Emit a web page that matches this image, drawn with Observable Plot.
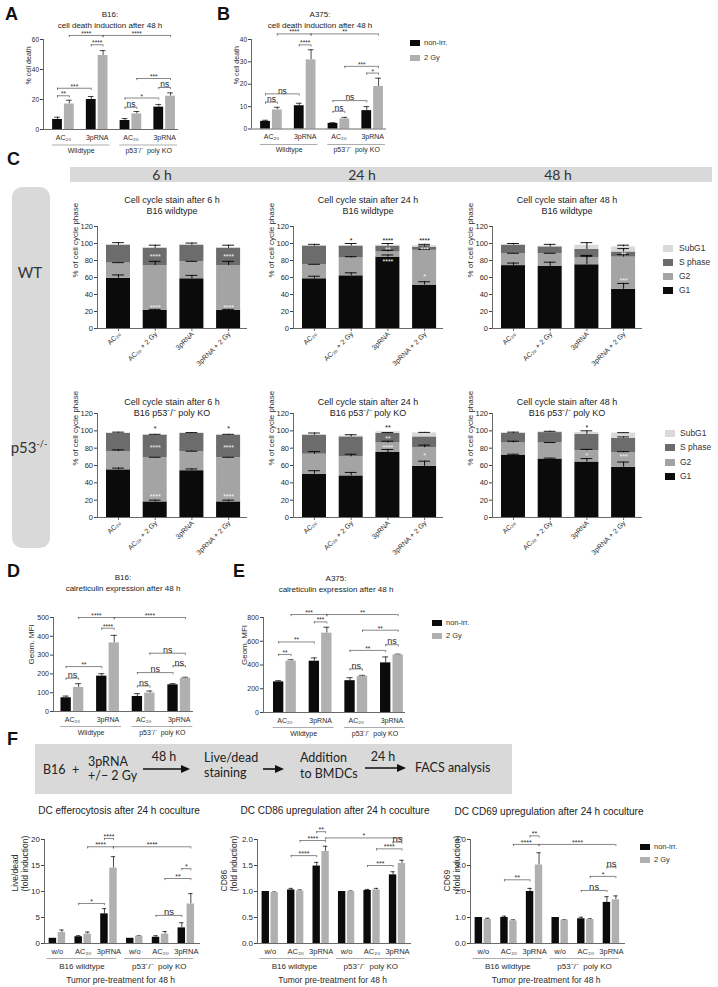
<!DOCTYPE html>
<html>
<head>
<meta charset="utf-8">
<script src="https://cdn.jsdelivr.net/npm/d3@7"></script>
<script src="https://cdn.jsdelivr.net/npm/@observablehq/plot@0.6"></script>
<style>
html,body{margin:0;padding:0;background:#fff;}
#fig{position:relative;width:718px;height:987px;overflow:hidden;background:#fff;font-family:"Liberation Sans",Arial,sans-serif;color:#222;}
#fig .t{position:absolute;white-space:nowrap;}
#fig svg{position:absolute;overflow:visible;}
#fig .box{position:absolute;background:#d9d9d9;}
</style>
</head>
<body>
<div id="fig"></div>
<script>
// ================= DATA =================
const cats4 = ["AC₂₀", "3pRNA", "AC₂₀", "3pRNA"];
const cats6 = ["w/o", "AC₂₀", "3pRNA", "w/o", "AC₂₀", "3pRNA"];
const groupNames = ["Wildtype", "p53⁻/⁻  poly KO"];
const groupNamesF = ["B16 wildtype", "p53⁻/⁻  poly KO"];
const seriesNames = ["non-irr.", "2 Gy"];
const phaseNames = ["G1", "G2", "S phase", "SubG1"];
const ccLabels = ["AC₂₀", "AC₂₀ + 2 Gy", "3pRNA", "3pRNA + 2 Gy"];

// Panel A: B16 % cell death
const aNon = [6.7, 20, 6, 14.9];
const aNonErr = [1.5, 2, 1.3, 1.8];
const aIrr = [17, 49.3, 10.4, 22.2];
const aIrrErr = [2.5, 3.3, 1.6, 2.2];
const aSig = [[1,3,62.7,"****"],[2,3,56.5,"****"],[3,7,62.7,"****"],[0,2,27.5,"***"],[0,1,22.5,"**"],[4,5,14.8,"ns"],[4,6,21,"*"],[5,7,34,"***"],[6,7,28,"ns"]];

// Panel B: A375 % cell death
const bNon = [3.4, 10.4, 2.5, 8.2];
const bNonErr = [0.5, 1.1, 0.3, 1.8];
const bIrr = [8.5, 30.9, 4.5, 19];
const bIrrErr = [1.2, 4.5, 0.7, 3.7];
const bSig = [[1,3,42.5,"****"],[2,3,37.6,"****"],[3,7,42.5,"**"],[0,2,15.7,"ns"],[0,1,12,"ns"],[5,7,28,"***"],[6,7,25,"*"],[4,6,12.7,"ns"],[4,5,7.9,"ns"]];

// Panel C: cell cycle phases (rows: G1, G2, S phase, SubG1; columns: AC20, AC20+2Gy, 3pRNA, 3pRNA+2Gy)
const ccWT6 = [[59,21.5,58.5,21.5],[18,52.5,20,52.5],[21,20.5,19.5,20.5],[0.6,0.7,0.5,0.7]];
const ccWT6Err = [[4,1,4,1],[0.5,5,0.5,5],[3,3.5,2.5,3.5],[0,0,0,0]];
const ccWT6Stars = [[1,24,"****","w"],[1,84,"****","w"],[3,24,"****","w"],[3,84,"****","w"]];

const ccWT24 = [[58.5,62,84,51],[16.5,21,6,41],[22,14,7,3.5],[0.5,0.5,1,2]];
const ccWT24Err = [[3,3.5,2.5,4],[0.5,1.5,2,1],[2,3,3,1.5],[0,0,0,1.5]];
const ccWT24Stars = [[1,103,"*","k"],[2,103,"****","k"],[2,93,"**","w"],[2,79,"****","w"],[3,103,"****","k"],[3,93,"***","w"],[3,61,"*","w"]];

const ccWT48 = [[74,73,75,46],[14,15,8,38],[10,8,10,6],[0.5,1,5,6]];
const ccWT48Err = [[3,5,11,7],[0.5,0.5,2,3],[2,3,8,4],[0,0,0,2]];
const ccWT48Stars = [[3,87,"**","w"],[3,56,"***","w"]];

const ccKO6 = [[55,18,54,18],[21,51,22,51],[21,26,21,26],[0.5,0.5,0.5,0.5]];
const ccKO6Err = [[2,2,2,2],[2,0.5,0.5,0.5],[1.5,1,1,1],[0,0,0,0]];
const ccKO6Stars = [[1,102,"*","k"],[1,80,"****","w"],[1,24,"****","w"],[3,102,"*","k"],[3,80,"****","w"],[3,24,"****","w"]];

const ccKO24 = [[50,48,75,59],[23,22,11,21.5],[22,23,11,12.5],[0.5,1,2,4.7]];
const ccKO24Err = [[4,4,3.5,6],[3,3,2,3],[2.5,2.5,1,0],[0,0,0,0.5]];
const ccKO24Stars = [[2,103,"**","k"],[2,91,"**","w"],[2,80,"****","w"],[3,71,"*","w"]];

const ccKO48 = [[72,67.5,64,58],[14,18.5,13,16.7],[11,12,19,16.7],[1,1,2,6]];
const ccKO48Err = [[1,1,4,6],[2,0.5,1.6,1.3],[1.5,1.5,4,1.6],[0,0,0,0.5]];
const ccKO48Stars = [[2,103.5,"*","k"],[2,71,"*","w"],[3,70,"***","w"]];

// Panel D: B16 calreticulin Geom. MFI
const dNon = [73, 188, 80, 142];
const dNonErr = [9, 13, 15, 6];
const dIrr = [128, 365, 98, 177];
const dIrrErr = [20, 40, 11, 5];
const dSig = [[1,3,500,"****"],[2,3,443,"****"],[3,7,500,"****"],[0,2,239,"**"],[0,1,177,"ns"],[4,6,207,"ns"],[4,5,136,"ns"],[5,7,310,"ns"],[6,7,243,"ns"]];

// Panel E: A375 calreticulin Geom. MFI
const eNon = [258, 432, 268, 418];
const eNonErr = [10, 28, 25, 50];
const eIrr = [432, 668, 305, 485];
const eIrrErr = [12, 50, 8, 6];
const eSig = [[1,3,825,"***"],[2,3,763,"***"],[3,7,825,"**"],[0,2,594,"**"],[0,1,489,"**"],[5,7,693,"**"],[6,7,571,"ns"],[4,6,523,"**"],[4,5,367,"ns"]];

// Panel F
const f1Non = [1, 1.3, 5.7, 1, 1.2, 3];
const f1NonErr = [0, 0.2, 1, 0, 0.3, 1];
const f1Irr = [2.1, 1.8, 14.5, 1.4, 1.8, 7.6];
const f1IrrErr = [0.5, 0.4, 2.2, 0.1, 0.5, 2];
const f1Sig = [[4,5,20.2,"****"],[3,5,18.6,"****"],[5,11,18.6,"****"],[2,4,7.7,"*"],[10,11,14.4,"*"],[9,11,12.5,"**"],[8,10,5.4,"ns"]];

const f2Non = [1, 1.03, 1.49, 1, 1.02, 1.32];
const f2NonErr = [0, 0.03, 0.07, 0, 0.02, 0.06];
const f2Irr = [0.98, 1.01, 1.77, 1.0, 1.03, 1.54];
const f2IrrErr = [0.01, 0.02, 0.1, 0.01, 0.03, 0.06];
const f2Sig = [[4,5,2.15,"**"],[3,5,1.98,"****"],[5,11,2.03,"*"],[2,4,1.69,"****"],[10,11,1.95,"ns"],[9,11,1.82,"****"],[8,10,1.5,"***"]];

const f3Non = [1, 1.0, 2.0, 1, 0.95, 1.58];
const f3NonErr = [0, 0.05, 0.12, 0, 0.06, 0.22];
const f3Irr = [0.92, 0.87, 3.02, 0.9, 0.92, 1.68];
const f3IrrErr = [0.05, 0.04, 0.47, 0.02, 0.03, 0.15];
const f3Sig = [[4,5,4.14,"**"],[3,5,3.81,"****"],[5,11,3.81,"****"],[2,4,2.45,"**"],[10,11,2.94,"ns"],[9,11,2.58,"*"],[8,10,2.04,"ns"]];

// ================= STYLE =================
const FONT = "'Liberation Sans', Arial, sans-serif";
const CAL = "Lato, 'Open Sans', sans-serif";
const BLACK = "#0b0b0b", GRAY = "#b0b0b0";
const PHASE_COLORS = ["#0b0b0b", "#a4a4a4", "#6c6c6c", "#d9d9d9"];
const fig = document.getElementById("fig");

function T(html, x, y, o = {}) {
  const d = document.createElement("div");
  d.className = "t";
  d.innerHTML = html;
  const size = o.size || 8, lh = o.lh || size;
  d.style.fontSize = size + "px";
  d.style.lineHeight = lh + "px";
  if (o.family) d.style.fontFamily = o.family;
  if (o.weight) d.style.fontWeight = o.weight;
  if (o.color) d.style.color = o.color;
  d.style.top = (y - lh / 2) + "px";
  if ((o.align || "c") === "c") { d.style.left = (x - 200) + "px"; d.style.width = "400px"; d.style.textAlign = "center"; }
  else d.style.left = x + "px";
  fig.appendChild(d);
  return d;
}
function box(x, y, w, h, extra = "") {
  const d = document.createElement("div");
  d.className = "box";
  d.style.cssText = `left:${x}px;top:${y}px;width:${w}px;height:${h}px;${extra}`;
  fig.appendChild(d);
}
function legend(x, y, dy, names, colors, size, sw = 10, sh = 6, gap = 4) {
  names.forEach((nm, i) => {
    const yy = y + i * dy;
    const s = document.createElement("div");
    s.style.cssText = `position:absolute;left:${x}px;top:${yy - sh / 2}px;width:${sw}px;height:${sh}px;background:${colors[i]};`;
    fig.appendChild(s);
    T(nm, x + sw + gap, yy, {size, align: "l", color: "#333"});
  });
}

// ---------- paired bar chart with significance brackets ----------
function pairChart(c) {
  const n = c.cats.length, mL = 70, mR = 30, mT = 40, mB = 60;
  const W = c.x1 - c.x0, H = c.yBot - c.yTop;
  const off = 0.175, hw = 0.145, cw = 0.085;
  const bars = [];
  for (let g = 0; g < n; g++) {
    bars.push({g, s: 0, c: g - off, v: c.v0[g], e: c.e0[g]});
    bars.push({g, s: 1, c: g + off, v: c.v1[g], e: c.e1[g]});
  }
  const tk = 2.2 * c.ymax / H;
  const br = c.sig.map(([a, b, y, t]) => ({xa: bars[a].c, xb: bars[b].c, y, t}));
  const ends = br.flatMap(d => [{x: d.xa, y: d.y}, {x: d.xb, y: d.y}]);
  const sup = c.supers.map(([a, b, t]) => ({a: a - c.supL, b: b + c.supR, t}));
  const withErr = bars.filter(d => d.e > 0);
  const catData = c.cats.map((t, g) => ({t, g}));
  const mid = (sup[0].a + sup[sup.length - 1].b) / 2;
  const marks = [
    Plot.ruleX(withErr, {x: "c", y1: "v", y2: d => d.v + d.e, stroke: "#1a1a1a", strokeWidth: 0.8}),
    Plot.ruleY(withErr, {y: d => d.v + d.e, x1: d => d.c - cw, x2: d => d.c + cw, stroke: "#1a1a1a", strokeWidth: 0.8}),
    Plot.rect(bars.filter(d => d.s === 0), {x1: d => d.c - hw, x2: d => d.c + hw, y1: 0, y2: "v", fill: BLACK}),
    Plot.rect(bars.filter(d => d.s === 1), {x1: d => d.c - hw, x2: d => d.c + hw, y1: 0, y2: "v", fill: GRAY}),
    Plot.ruleX([-c.padL], {stroke: "#444", strokeWidth: 0.8}),
    Plot.ruleY([0], {stroke: "#444", strokeWidth: 0.8}),
    Plot.axisY({ticks: c.yticks, tickSize: 3, tickPadding: 1.5, fontSize: c.tickSize, label: null, tickFormat: c.fmt, stroke: "#444"}),
    Plot.ruleY(br, {y: "y", x1: "xa", x2: "xb", stroke: "#555", strokeWidth: 0.7}),
    Plot.ruleX(ends, {x: "x", y1: "y", y2: d => d.y - tk, stroke: "#555", strokeWidth: 0.7}),
    Plot.text(br.filter(d => d.t !== "ns"), {x: d => (d.xa + d.xb) / 2, y: "y", text: "t", fontSize: c.starSize, lineAnchor: "bottom", dy: 0.5}),
    Plot.text(br.filter(d => d.t === "ns"), {x: d => (d.xa + d.xb) / 2, y: "y", text: "t", fontSize: c.nsSize, lineAnchor: "bottom", dy: -0.3}),
    Plot.text(catData, {x: "g", text: "t", frameAnchor: "bottom", lineAnchor: "middle", dy: c.catDy, fontSize: c.catSize}),
    Plot.ruleY(sup, {y: () => 0, x1: "a", x2: "b", dy: c.lineDy, stroke: "#8a8a8a", strokeWidth: 0.7}),
    Plot.text(sup, {x: d => (d.a + d.b) / 2, text: "t", frameAnchor: "bottom", lineAnchor: "middle", dy: c.supDy, fontSize: c.supSize}),
    Plot.text([c.ylabel], {text: d => d, frameAnchor: "left", rotate: -90, dx: c.ylabelDx, fontSize: c.ylabelSize, lineHeight: 1.25})
  ];
  if (c.footer) marks.push(Plot.text([c.footer], {x: () => mid, text: d => d, frameAnchor: "bottom", lineAnchor: "middle", dy: c.footDy, fontSize: c.footSize}));
  const svg = Plot.plot({
    width: W + mL + mR, height: H + mT + mB,
    marginLeft: mL, marginRight: mR, marginTop: mT, marginBottom: mB,
    x: {domain: [-c.padL, n - 1 + c.padR], axis: null},
    y: {domain: [0, c.ymax], axis: null},
    style: {background: "transparent", overflow: "visible", fontFamily: FONT, color: "#2a2a2a"},
    marks
  });
  svg.style.left = (c.x0 - mL) + "px";
  svg.style.top = (c.yTop - mT) + "px";
  fig.appendChild(svg);
}

// ---------- stacked cell-cycle chart ----------
function ccChart(c) {
  const mL = 70, mR = 30, mT = 40, mB = 60;
  const padL = 0.572, padR = 0.515, W = 150, H = c.yBot - c.yTop, ymax = 120;
  const hw = 0.327, cw = 0.16;
  const segs = [], eb = [];
  for (let i = 0; i < 4; i++) {
    let base = 0;
    for (let k = 0; k < 4; k++) {
      const v = c.comps[k][i];
      segs.push({i, k, y1: base, y2: base + v});
      base += v;
      if (c.errs[k][i] > 0) eb.push({i, top: base, cap: base + c.errs[k][i]});
    }
  }
  const tk = 3 * ymax / H;
  const marks = [
    ...[0, 1, 2, 3].map(k => Plot.rect(segs.filter(d => d.k === k), {x1: d => d.i - hw, x2: d => d.i + hw, y1: "y1", y2: "y2", fill: PHASE_COLORS[k]})),
    Plot.ruleX(eb, {x: "i", y1: "top", y2: "cap", stroke: "#000", strokeWidth: 0.9}),
    Plot.ruleY(eb, {y: "cap", x1: d => d.i - cw, x2: d => d.i + cw, stroke: "#000", strokeWidth: 0.9}),
    Plot.ruleX([-padL], {stroke: "#444", strokeWidth: 0.8}),
    Plot.ruleY([0], {stroke: "#444", strokeWidth: 0.8}),
    Plot.ruleX([0, 1, 2, 3], {y1: 0, y2: -tk, stroke: "#444", strokeWidth: 0.8}),
    Plot.axisY({ticks: [0, 20, 40, 60, 80, 100, 120], tickSize: 3, tickPadding: 1.5, fontSize: 7.5, label: null, stroke: "#444"}),
    Plot.text(ccLabels, {x: (d, i) => i, text: d => d, frameAnchor: "bottom", rotate: -45, textAnchor: "end", dx: 2.5, dy: 6, fontSize: 7}),
    Plot.text(c.stars.filter(s => s[3] === "w"), {x: d => d[0], y: d => d[1], text: d => d[2], fill: "#f2f2f2", fontSize: 7}),
    Plot.text(c.stars.filter(s => s[3] === "k"), {x: d => d[0], y: d => d[1], text: d => d[2], fill: "#111", fontSize: 7}),
    Plot.text(["% of cell cycle phase"], {text: d => d, frameAnchor: "left", rotate: -90, dx: -22, fontSize: 8})
  ];
  const svg = Plot.plot({
    width: W + mL + mR, height: H + mT + mB,
    marginLeft: mL, marginRight: mR, marginTop: mT, marginBottom: mB,
    x: {domain: [-padL, 3 + padR], axis: null},
    y: {domain: [0, ymax], axis: null},
    style: {background: "transparent", overflow: "visible", fontFamily: FONT, color: "#2a2a2a"},
    marks
  });
  svg.style.left = (c.x0 - mL) + "px";
  svg.style.top = (c.yTop - mT) + "px";
  fig.appendChild(svg);
}

// ================= LAYOUT =================
// Panel letters
[["A", 5, 13.5], ["B", 217, 13.5], ["C", 7, 159], ["D", 7, 571], ["E", 233, 571], ["F", 7, 739]].forEach(([l, x, y]) => T(l, x, y, {size: 18, weight: "bold", align: "l", color: "#111"}));

// ---------- A & B ----------
const supers4 = [[0, 1, groupNames[0]], [2, 3, groupNames[1]]];
const baseAB = {cats: cats4, padL: 0.59, padR: 0.41, supers: supers4, supL: 0.33, supR: 0.38,
  tickSize: 6.5, starSize: 6.5, nsSize: 8.5, catSize: 7, supSize: 7, catDy: 8, lineDy: 15.5, supDy: 21, ylabelSize: 7};
T("B16:<br>cell death induction after 48 h", 110, 14, {size: 8, lh: 11});
pairChart({...baseAB, x0: 43, x1: 178, yTop: 39, yBot: 129, ymax: 60, yticks: [0, 20, 40, 60],
  v0: aNon, e0: aNonErr, v1: aIrr, e1: aIrrErr, sig: aSig, ylabel: "% cell death", ylabelDx: -15});
T("A375:<br>cell death induction after 48 h", 320, 14, {size: 8, lh: 11});
pairChart({...baseAB, x0: 251, x1: 386, yTop: 39, yBot: 128.5, ymax: 40, yticks: [0, 10, 20, 30, 40],
  v0: bNon, e0: bNonErr, v1: bIrr, e1: bIrrErr, sig: bSig, ylabel: "% cell death", ylabelDx: -15});
legend(410, 43, 15, seriesNames, [BLACK, GRAY], 7.5);

// ---------- C ----------
box(70, 167, 642, 15);
T("6 h", 162, 174.5, {size: 14, family: CAL, color: "#333"});
T("24 h", 362, 174.5, {size: 14, family: CAL, color: "#333"});
T("48 h", 558, 174.5, {size: 14, family: CAL, color: "#333"});
box(12, 187, 38, 361, "border-radius:10px;");
T("WT", 30, 272, {size: 15, family: CAL, color: "#333"});
T("p53<sup style='font-size:9px;vertical-align:6px;line-height:0'>-/-</sup>", 29, 447, {size: 15, family: CAL, color: "#333"});

const ccTop = [[97, "6", ccWT6, ccWT6Err, ccWT6Stars], [293, "24", ccWT24, ccWT24Err, ccWT24Stars], [492, "48", ccWT48, ccWT48Err, ccWT48Stars]];
ccTop.forEach(([x0, h, comps, errs, stars]) => {
  T(`Cell cycle stain after ${h} h<br>B16 wildtype`, x0 + 75, 200, {size: 9, lh: 11});
  ccChart({x0, yTop: 226, yBot: 328, comps, errs, stars});
});
const ccBot = [[97, "6", ccKO6, ccKO6Err, ccKO6Stars], [293, "24", ccKO24, ccKO24Err, ccKO24Stars], [492, "48", ccKO48, ccKO48Err, ccKO48Stars]];
ccBot.forEach(([x0, h, comps, errs, stars]) => {
  T(`Cell cycle stain after ${h} h<br>B16 p53⁻/⁻  poly KO`, x0 + 75, 402.5, {size: 9, lh: 11});
  ccChart({x0, yTop: 413, yBot: 517, comps, errs, stars});
});
const legOrder = [3, 2, 1, 0];
legend(663, 248, 14, legOrder.map(k => phaseNames[k]), legOrder.map(k => PHASE_COLORS[k]), 8.5, 10, 7, 6);
legend(665, 433, 14.5, legOrder.map(k => phaseNames[k]), legOrder.map(k => PHASE_COLORS[k]), 8.5, 10, 7, 5);

// ---------- D & E ----------
const baseDE = {cats: cats4, supers: supers4, supL: 0.33, supR: 0.38,
  tickSize: 7, starSize: 6.5, nsSize: 9, catSize: 7, supSize: 7, catDy: 8.5, lineDy: 15, supDy: 21, ylabelSize: 8};
T("B16:<br>calreticulin expression after 48 h", 123, 577, {size: 8, lh: 11});
pairChart({...baseDE, x0: 53, x1: 193, yTop: 617, yBot: 711, padL: 0.53, padR: 0.4, ymax: 500, yticks: [0, 100, 200, 300, 400, 500],
  v0: dNon, e0: dNonErr, v1: dIrr, e1: dIrrErr, sig: dSig, ylabel: "Geom. MFI", ylabelDx: -23});
T("A375:<br>calreticulin expression after 48 h", 336, 578, {size: 8, lh: 11});
pairChart({...baseDE, x0: 263, x1: 405, yTop: 617, yBot: 712, padL: 0.6, padR: 0.38, ymax: 800, yticks: [0, 200, 400, 600, 800],
  v0: eNon, e0: eNonErr, v1: eIrr, e1: eIrrErr, sig: eSig, ylabel: "Geom. MFI", ylabelDx: -20});
legend(432, 623, 12.5, seriesNames, [BLACK, GRAY], 7.5);

// ---------- F: flow scheme ----------
box(35, 744, 477, 50);
const FS = 12.5;
T("B16&nbsp;&nbsp;+", 43, 770, {size: FS, family: CAL, align: "l", color: "#222"});
T("3pRNA<br>+/− 2 Gy", 88, 762, {size: FS, lh: 14, family: CAL, align: "l", color: "#222"});
T("48 h", 164, 757, {size: FS, family: CAL, color: "#222"});
T("Live/dead<br>staining", 204, 757, {size: FS, lh: 15, family: CAL, align: "l", color: "#222"});
T("Addition<br>to BMDCs", 300, 758, {size: FS, lh: 16, family: CAL, align: "l", color: "#222"});
T("24 h", 383, 757, {size: FS, family: CAL, color: "#222"});
T("FACS analysis", 415, 768, {size: FS, family: CAL, align: "l", color: "#222"});
function arrow(xa, xb, y) {
  const ns = "http://www.w3.org/2000/svg";
  const s = document.createElementNS(ns, "svg");
  s.setAttribute("width", xb - xa + 2); s.setAttribute("height", 10);
  s.style.left = xa + "px"; s.style.top = (y - 5) + "px";
  s.innerHTML = `<line x1="0" y1="5" x2="${xb - xa - 8}" y2="5" stroke="#111" stroke-width="1.6"/><path d="M${xb - xa - 9},1 L${xb - xa},5 L${xb - xa - 9},9 Z" fill="#111"/>`;
  fig.appendChild(s);
}
arrow(143, 190, 769);
arrow(263, 284, 769);
arrow(365, 406, 768);

// ---------- F: charts ----------
const supers6 = [[0, 2, groupNamesF[0]], [3, 5, groupNamesF[1]]];
const baseF = {cats: cats6, padL: 0.5, padR: 0.55, supers: supers6, supL: 0.4, supR: 0.3, yTop: 839, yBot: 943,
  tickSize: 8, starSize: 7, nsSize: 9.5, catSize: 7.5, supSize: 8, catDy: 8.5, lineDy: 15, supDy: 23,
  footer: "Tumor pre-treatment for 48 h", footDy: 37, footSize: 8.5, ylabelSize: 8.5};
T("DC efferocytosis after 24 h coculture", 119, 811, {size: 10});
pairChart({...baseF, x0: 44, x1: 200, ymax: 20, yticks: [0, 5, 10, 15, 20],
  v0: f1Non, e0: f1NonErr, v1: f1Irr, e1: f1IrrErr, sig: f1Sig, ylabel: "Live/dead\n(fold induction)", ylabelDx: -25});
T("DC CD86 upregulation after 24 h coculture", 335, 811, {size: 10});
pairChart({...baseF, x0: 257, x1: 411, ymax: 2, yticks: [0, 0.5, 1, 1.5, 2], fmt: d3.format(".1f"),
  v0: f2Non, e0: f2NonErr, v1: f2Irr, e1: f2IrrErr, sig: f2Sig, ylabel: "CD86\n(fold induction)", ylabelDx: -29});
T("DC CD69 upregulation after 24 h coculture", 549, 812, {size: 10});
pairChart({...baseF, x0: 470, x1: 625, ymax: 4, yticks: [0, 1, 2, 3, 4],
  v0: f3Non, e0: f3NonErr, v1: f3Irr, e1: f3IrrErr, sig: f3Sig, ylabel: "CD69\n(fold induction)", ylabelDx: -19});
legend(640, 847, 12.5, seriesNames, [BLACK, GRAY], 7.5);
</script>
</body>
</html>
